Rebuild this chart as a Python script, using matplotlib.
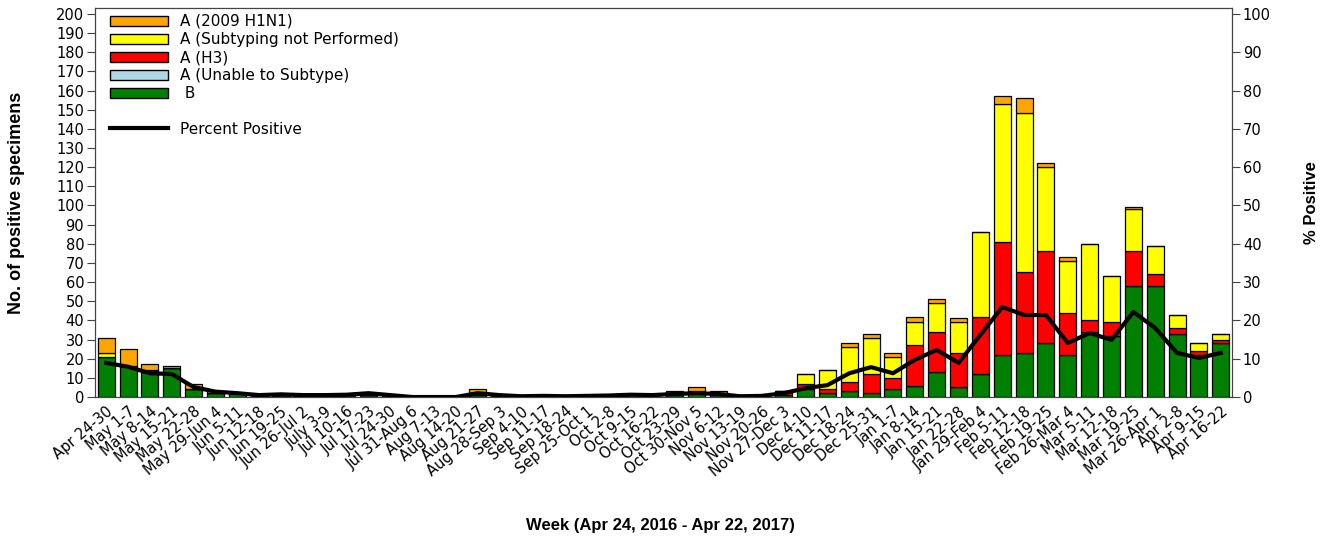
import matplotlib
matplotlib.use("Agg")
import matplotlib.pyplot as plt
from matplotlib.patches import Patch
from matplotlib.lines import Line2D
import numpy as np

weeks = ["Apr 24-30", "May 1-7", "May 8-14", "May 15-21", "May 22-28", "May 29-Jun 4",
         "Jun 5-11", "Jun 12-18", "Jun 19-25", "Jun 26-Jul 2", "July 3-9", "Jul 10-16",
         "Jul 17-23", "Jul 24-30", "Jul 31-Aug 6", "Aug 7-13", "Aug 14-20", "Aug 21-27",
         "Aug 28-Sep 3", "Sep 4-10", "Sep 11-17", "Sep 18-24", "Sep 25-Oct 1", "Oct 2-8",
         "Oct 9-15", "Oct 16-22", "Oct 23-29", "Oct 30-Nov 5", "Nov 6-12", "Nov 13-19",
         "Nov 20-26", "Nov 27-Dec 3", "Dec 4-10", "Dec 11-17", "Dec 18-24", "Dec 25-31",
         "Jan 1-7", "Jan 8-14", "Jan 15-21", "Jan 22-28", "Jan 29-Feb 4", "Feb 5-11",
         "Feb 12-18", "Feb 19-25", "Feb 26-Mar 4", "Mar 5-11", "Mar 12-18", "Mar 19-25",
         "Mar 26-Apr 1", "Apr 2-8", "Apr 9-15", "Apr 16-22"]

flu_b = [21, 16, 13, 15, 4, 2, 2, 1, 1, 1, 1, 1, 1, 1, 0, 0, 0, 1, 1, 0, 0, 0, 0, 0, 0, 0,
         1, 2, 1, 0, 1, 1, 4, 2, 3, 2, 4, 6, 13, 5, 12, 22, 23, 28, 22, 34, 32, 58, 58, 33, 22, 28]
unable = [0] * 52
h3 = [0, 0, 1, 0, 0, 0, 0, 0, 0, 0, 0, 0, 0, 0, 0, 0, 0, 0, 0, 0, 0, 0, 0, 0, 0, 0,
      1, 0, 0, 0, 0, 2, 3, 2, 5, 10, 6, 21, 21, 18, 30, 59, 42, 48, 22, 6, 7, 18, 6, 3, 2, 2]
not_subtyped = [2, 0, 0, 0, 0, 0, 0, 0, 0, 0, 0, 0, 0, 0, 0, 0, 0, 1, 0, 0, 0, 0, 0, 0, 0, 0,
                0, 1, 1, 0, 0, 0, 5, 10, 18, 19, 11, 12, 15, 16, 44, 72, 83, 44, 27, 40, 24, 22, 15, 7, 4, 3]
h1n1 = [8, 9, 3, 1, 3, 1, 0, 0, 0, 0, 0, 0, 0, 0, 0, 0, 0, 2, 0, 0, 0, 0, 0, 0, 0, 0,
        1, 2, 1, 0, 0, 0, 0, 0, 2, 2, 2, 3, 2, 2, 0, 4, 8, 2, 2, 0, 0, 1, 0, 0, 0, 0]
pct_pos = [8.9, 7.9, 6.2, 6.0, 2.6, 1.4, 1.0, 0.5, 0.7, 0.5, 0.5, 0.6, 1.0, 0.5, 0.0, 0.0,
           0.0, 1.0, 0.5, 0.2, 0.3, 0.2, 0.3, 0.4, 0.6, 0.5, 0.8, 1.0, 0.8, 0.2, 0.3, 1.0,
           2.3, 3.1, 6.2, 7.8, 6.2, 9.7, 12.3, 8.9, 16.2, 23.5, 21.4, 21.4, 14.1, 16.7, 14.9,
           22.2, 18.0, 11.5, 10.2, 11.5]

series = [("B", flu_b, "#008000"),
          ("A (Unable to Subtype)", unable, "#add8e6"),
          ("A (H3)", h3, "#ff0000"),
          ("A (Subtyping not Performed)", not_subtyped, "#ffff00"),
          ("A (2009 H1N1)", h1n1, "#ffa500")]

plt.rcParams['font.family'] = ['DejaVu Sans']
bold_font = dict(family=['Liberation Sans', 'DejaVu Sans'], fontsize=12, fontweight="bold")

fig = plt.figure(figsize=(13.23, 5.42), dpi=100)
ax = fig.add_axes([0.072, 0.2675, 0.859, 0.7175])
x = np.arange(len(weeks))
bottom = np.zeros(len(weeks))
for name, vals, col in series:
    v = np.array(vals, dtype=float)
    ax.bar(x, v, 0.78, bottom=bottom, color=col, edgecolor="black", linewidth=0.9, zorder=2)
    bottom += v

ax.set_xlim(-0.5, len(weeks) - 0.5)
ax.set_ylim(0, 203)
ax.set_yticks(np.arange(0, 201, 10))
ax.set_xticks(x)
ax.set_xticklabels(weeks, rotation=40, ha="right", rotation_mode="anchor", fontsize=10.5)
ax.tick_params(axis="x", length=0, pad=5)
ax.tick_params(axis="y", labelsize=10.5, length=6, pad=2, color="#444444")
ax.set_ylabel("No. of positive specimens", family=['Liberation Sans', 'DejaVu Sans'],
              fontsize=13, fontweight="bold")
ax.yaxis.set_label_coords(-0.062, 0.5)
ax.set_xlabel("Week (Apr 24, 2016 - Apr 22, 2017)", **bold_font)
ax.xaxis.set_label_coords(0.497, -0.312)

ax2 = ax.twinx()
ax2.plot(x, pct_pos, color="black", linewidth=3, zorder=3)
ax2.set_ylim(0, 101.5)
ax2.set_yticks(np.arange(0, 101, 10))
ax2.tick_params(axis="y", labelsize=10.5, length=6, pad=2, color="#444444")
ax2.set_ylabel("% Positive", **bold_font)
ax2.yaxis.set_label_coords(1.0633, 0.5)

for a in (ax, ax2):
    for s in a.spines.values():
        s.set_color("#444444")

bar_handles = [Patch(facecolor="#ffa500", edgecolor="black"),
               Patch(facecolor="#ffff00", edgecolor="black"),
               Patch(facecolor="#ff0000", edgecolor="black"),
               Patch(facecolor="#add8e6", edgecolor="black"),
               Patch(facecolor="#008000", edgecolor="black")]
bar_labels = ["A (2009 H1N1)", "A (Subtyping not Performed)", "A (H3)",
              "A (Unable to Subtype)", " B"]
leg_kw = dict(frameon=False, fontsize=11, handlelength=3.8, handleheight=0.65,
              labelspacing=0.2, handletextpad=0.75, borderaxespad=0, borderpad=0)
leg1 = ax2.legend(bar_handles, bar_labels, loc="upper left",
                  bbox_to_anchor=(110 / 1323, 1 - 14 / 542), bbox_transform=fig.transFigure, **leg_kw)
ax2.add_artist(leg1)
ax2.legend([Line2D([], [], color="black", linewidth=3)], ["Percent Positive"], loc="center left",
           bbox_to_anchor=(110 / 1323, 1 - 129 / 542), bbox_transform=fig.transFigure, **leg_kw)

fig.savefig("out.png", dpi=100)
